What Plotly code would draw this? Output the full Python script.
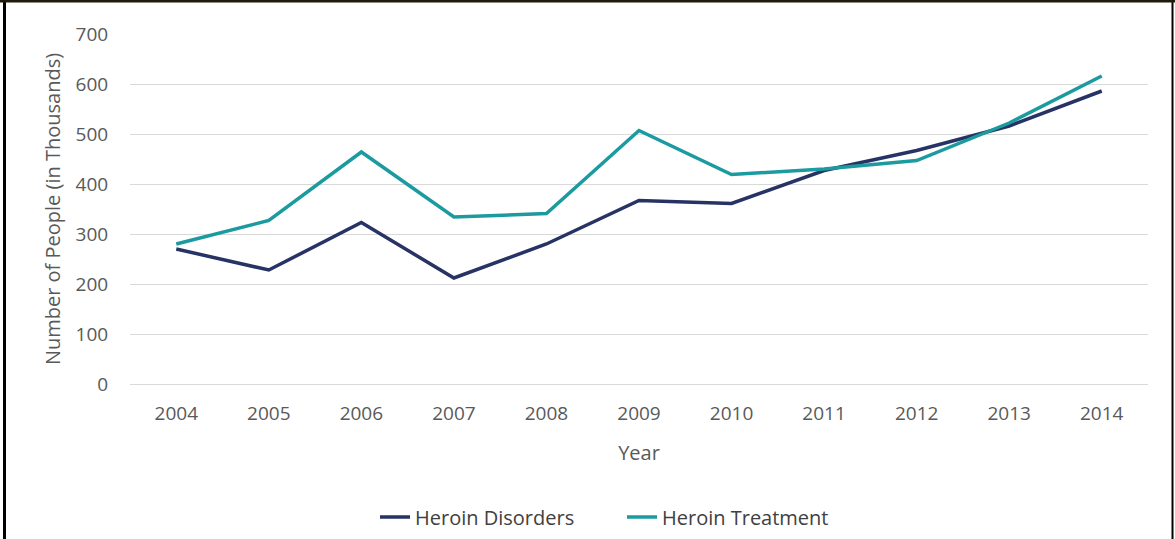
import plotly.graph_objects as go

years = ["2004", "2005", "2006", "2007", "2008", "2009", "2010", "2011", "2012", "2013", "2014"]
heroin_disorders = [270, 228, 323, 212, 280, 367, 361, 427, 467, 516, 586]
heroin_treatment = [280, 327, 464, 334, 341, 507, 419, 430, 447, 522, 616]
y_ticks = [0, 100, 200, 300, 400, 500, 600, 700]

W, H = 1175, 539
L, R, T, B = 130, 27, 34, 155
pw, ph = W - L - R, H - T - B

def px(x):
    return (x - L) / pw

def py(y):
    return (H - B - y) / ph

fig = go.Figure()
fig.add_trace(go.Scatter(x=years, y=heroin_disorders, mode="lines", name="Heroin Disorders",
                         line=dict(color="#263364", width=3.5)))
fig.add_trace(go.Scatter(x=years, y=heroin_treatment, mode="lines", name="Heroin Treatment",
                         line=dict(color="#1B9AA0", width=3.5)))

font_family = "Open Sans, Noto Sans, sans-serif"
fig.update_layout(
    width=W, height=H,
    margin=dict(l=L, r=R, t=T, b=B, pad=0, autoexpand=False),
    paper_bgcolor="white", plot_bgcolor="white",
    font=dict(family=font_family, color="#595959", size=19),
    showlegend=True,
    legend=dict(orientation="h", xref="container", yref="container",
                x=375 / W, xanchor="left", y=1 - 517 / H, yanchor="middle",
                font=dict(size=20, color="#404040"), itemwidth=30, tracegroupgap=0,
                entrywidth=202, entrywidthmode="pixels"),
    xaxis=dict(type="category", range=[-0.5, 10.5], showgrid=False, zeroline=False,
               showline=False, ticks="outside", ticklen=12, tickcolor="rgba(0,0,0,0)",
               automargin=False,
               tickfont=dict(size=19, color="#595959"),
               title=dict(text="Year", font=dict(size=20, color="#595959"), standoff=21)),
    yaxis=dict(range=[0, 700], tickvals=y_ticks, showgrid=True, gridcolor="#d9d9d9", gridwidth=1,
               zeroline=True, zerolinecolor="#d9d9d9", zerolinewidth=1, showline=False,
               ticks="outside", ticklen=17, tickcolor="rgba(0,0,0,0)",
               automargin=False,
               tickfont=dict(size=19, color="#595959"),
               title=dict(text="Number of People (in Thousands)", font=dict(size=20, color="#595959"),
                          standoff=9)),
    shapes=[
        dict(type="line", xref="paper", yref="paper", x0=px(4.5), x1=px(4.5), y0=py(0), y1=py(545),
             line=dict(color="black", width=3)),
        dict(type="line", xref="paper", yref="paper", x0=px(1172.5), x1=px(1172.5), y0=py(0), y1=py(545),
             line=dict(color="black", width=2)),
        dict(type="line", xref="paper", yref="paper", x0=px(0), x1=px(1175), y0=py(1), y1=py(1),
             line=dict(color="#1e1a0c", width=3)),
    ],
)

fig.write_html("out.html")
